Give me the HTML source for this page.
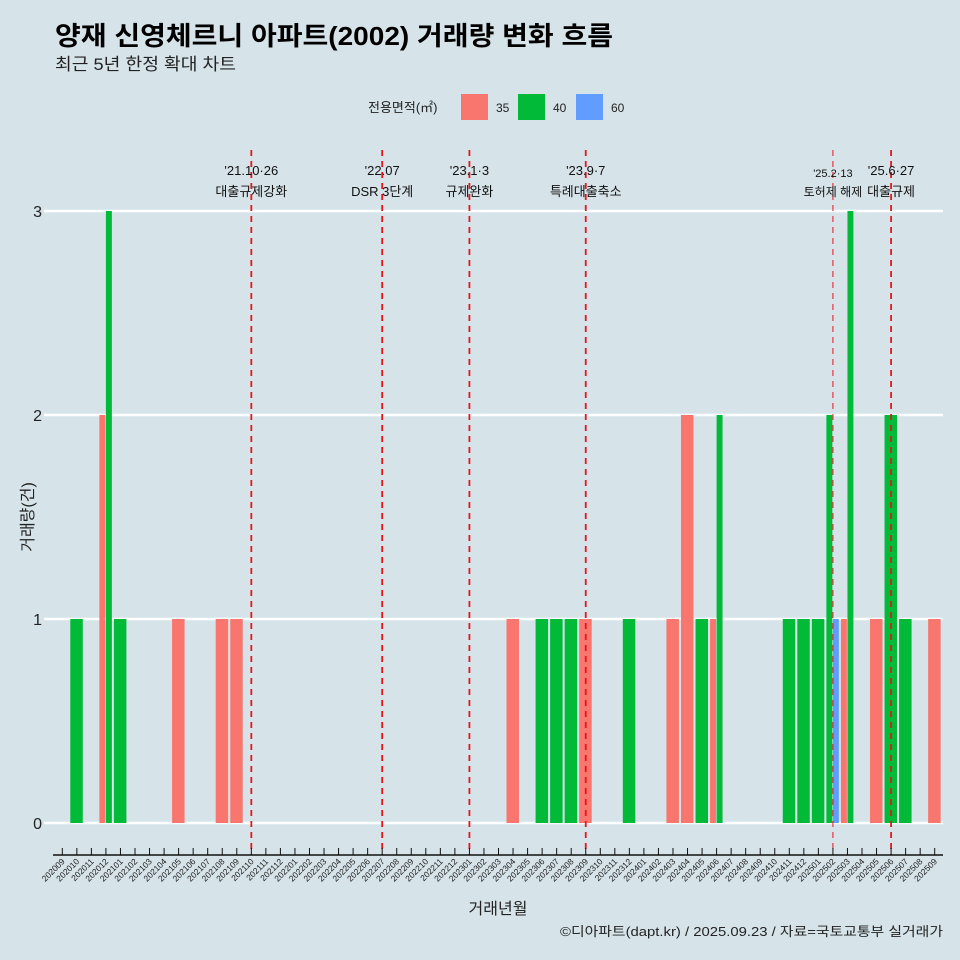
<!DOCTYPE html>
<html><head><meta charset="utf-8">
<style>
body{margin:0;background:#d6e4ea;}
svg{display:block;font-family:"Liberation Sans","Noto Sans CJK KR",sans-serif;}
</style></head>
<body>
<svg id="c" width="960" height="960" viewBox="0 0 960 960">
<rect width="960" height="960" fill="#d6e4ea"/>
<text x="55" y="45" font-size="26" font-weight="bold" fill="#000" textLength="558" lengthAdjust="spacingAndGlyphs">양재 신영체르니 아파트(2002) 거래량 변화 흐름</text>
<text x="55" y="70" font-size="17" fill="#222" textLength="181" lengthAdjust="spacingAndGlyphs">최근 5년 한정 확대 차트</text>
<g>
<text x="368" y="112" font-size="13" fill="#222">전용면적(㎡)</text>
<rect x="461" y="94" width="27" height="26" fill="#f8766d"/>
<text x="496" y="112" font-size="12" fill="#222">35</text>
<rect x="518" y="94" width="27" height="26" fill="#00ba38"/>
<text x="553" y="112" font-size="12" fill="#222">40</text>
<rect x="576" y="94" width="27" height="26" fill="#619cff"/>
<text x="611" y="112" font-size="12" fill="#222">60</text>
</g>
<text transform="translate(33,517) rotate(-90)" text-anchor="middle" font-size="16" fill="#222">거래량(건)</text>
<text x="498" y="914" text-anchor="middle" font-size="16" fill="#222">거래년월</text>
<text x="560" y="936" font-size="13" fill="#222" textLength="383" lengthAdjust="spacingAndGlyphs">©디아파트(dapt.kr) / 2025.09.23 / 자료=국토교통부 실거래가</text>
<g id="grid"></g><g id="bars"></g><g id="events"></g><g id="axis"></g>
</svg>
<script>
const months = [];
for (let y = 2020, m = 9; !(y === 2025 && m === 10); ) { months.push(y + String(m).padStart(2, '0')); m++; if (m > 12) { m = 1; y++; } }
const areas = ['35', '40', '60'];
const colors = ['#f8766d', '#00ba38', '#619cff'];
const trMonths = ['202010','202012','202012','202101','202105','202108','202109','202304','202306','202307','202308','202309','202312','202403','202404','202405','202406','202406','202411','202412','202501','202502','202502','202503','202503','202505','202506','202507','202509'];
const trAreas  = ['40','35','40','40','35','35','35','35','40','40','40','35','40','35','35','40','35','40','40','40','40','40','60','35','40','35','40','40','35'];
const trCounts = [1,2,3,1,1,1,1,1,1,1,1,1,1,1,2,1,1,2,1,1,1,2,1,1,3,1,2,1,1];
const yTicks = [0, 1, 2, 3];
const evMonths = ['202110','202207','202301','202309','202502','202506'];
const evDates = ["'21.10·26","'22.07","'23.1·3","'23.9·7","'25.2·13","'25.6·27"];
const evLabels = ['대출규제강화','DSR 3단계','규제완화','특례대출축소','토허제 해제','대출규제'];

const NS = 'http://www.w3.org/2000/svg';
const x0 = 62.3, step = 14.54, yBase = 823, yUnit = 204;
const xs = m => x0 + months.indexOf(m) * step;
const ys = v => yBase - v * yUnit;
function mk(tag, attrs, parent) { const e = document.createElementNS(NS, tag); for (const k in attrs) e.setAttribute(k, attrs[k]); parent.appendChild(e); return e; }
const G = id => document.getElementById(id);

yTicks.forEach(t => {
  const l = mk('line', {x1: 44, x2: 943, y1: ys(t), y2: ys(t), stroke: '#fff', 'stroke-width': 2.5}, G('grid'));
  
  
  const tx = mk('text', {x: 42, y: ys(t) + 6, 'text-anchor': 'end', 'font-size': 16, fill: '#222'}, G('grid'));
  tx.textContent = t;
  
  
});

const full = 0.9 * step;
months.forEach(m => {
  const idx = []; trMonths.forEach((mm, i) => { if (mm === m) idx.push(i); });
  idx.sort((a, b) => areas.indexOf(trAreas[a]) - areas.indexOf(trAreas[b]));
  const w = full / (idx.length || 1);
  idx.forEach((i, k) => {
    const left = xs(m) - full / 2 + k * w;
    const r = mk('rect', {x: left, y: ys(trCounts[i]), width: w - 0.6, height: trCounts[i] * yUnit, fill: colors[areas.indexOf(trAreas[i])]}, G('bars'));
    
    
  });
});

evMonths.forEach((m, i) => {
  const small = m === '202502';
  const x = xs(m);
  const l = mk('line', {x1: x, x2: x, y1: 150, y2: 855, stroke: '#e8141c', 'stroke-width': small ? 1 : 1.8, 'stroke-dasharray': '6,5'}, G('events'));
  
  
  const t1 = mk('text', {x: x, y: small ? 177 : 175, 'text-anchor': 'middle', 'font-size': small ? 11 : 13, fill: '#111'}, G('events'));
  t1.textContent = evDates[i];
  
  
  const t2 = mk('text', {x: x, y: 196, 'text-anchor': 'middle', 'font-size': small ? 12 : 13, fill: '#111'}, G('events'));
  t2.textContent = evLabels[i];
  
  
});

const ax = mk('line', {x1: 53, x2: 943, y1: 855, y2: 855, stroke: '#111', 'stroke-width': 1.5}, G('axis'));


months.forEach(m => {
  const x = xs(m);
  const tk = mk('line', {x1: x, x2: x, y1: 848, y2: 855, stroke: '#111', 'stroke-width': 1}, G('axis'));
  
  
  const t = mk('text', {x: x + 3, y: 862, 'text-anchor': 'end', 'font-size': 8.5, fill: '#222', transform: 'rotate(-45 ' + (x + 3) + ' 862)'}, G('axis'));
  t.textContent = m;
  
  
});
</script>
</body></html>
